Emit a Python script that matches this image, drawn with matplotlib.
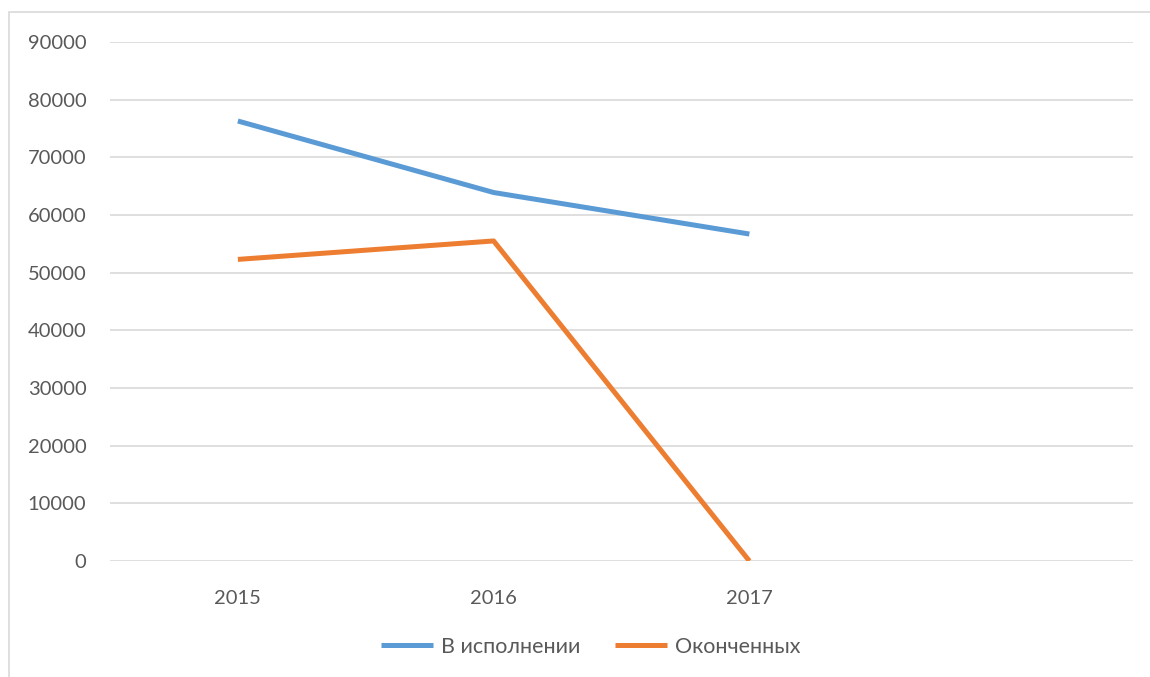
import matplotlib.pyplot as plt
from matplotlib.patches import Rectangle

# Data
years = ["2015", "2016", "2017", ""]
in_progress = [76300, 63900, 56700]
finished = [52300, 55500, 0]
series_names = ["В исполнении", "Оконченных"]

plt.rcParams['font.family'] = ['Lato', 'DejaVu Sans']

fig = plt.figure(figsize=(11.5, 6.77), dpi=100)
ax = fig.add_axes([110 / 1150, 1 - 561 / 677, (1133 - 110) / 1150, (561 - 42) / 677])

text_color = "#595959"
grid_color = "#d9d9d9"

x = list(range(len(years)))
ax.plot(x[:len(in_progress)], in_progress, color="#5b9bd5", linewidth=3.6,
        solid_capstyle='butt', solid_joinstyle='round', label=series_names[0])
ax.plot(x[:len(finished)], finished, color="#ed7d31", linewidth=3.6,
        solid_capstyle='butt', solid_joinstyle='round', label=series_names[1])

ax.set_xlim(-0.5, len(years) - 0.5)
ax.set_ylim(0, 90000)
ax.set_yticks(range(0, 90001, 10000))
ax.set_xticks(x)
ax.set_xticklabels(years)
ax.yaxis.grid(True, color=grid_color, linewidth=1.2)
ax.set_axisbelow(True)
for s in ax.spines.values():
    s.set_visible(False)
ax.tick_params(length=0, labelsize=14.5, labelcolor=text_color)
ax.tick_params(axis='y', pad=17)
ax.tick_params(axis='x', pad=21)

# outer chart border (cropped on right and bottom)
fig.patches.append(Rectangle((9 / 1150, -0.1), 1.2, (677 - 12) / 677 + 0.1,
                             transform=fig.transFigure, fill=False,
                             edgecolor=grid_color, linewidth=1.2))

fig.legend(loc='center', bbox_to_anchor=(591 / 1150, 1 - 647 / 677), ncol=2,
           frameon=False, fontsize=15.5, labelcolor=text_color,
           handlelength=2.4, columnspacing=1.6, handletextpad=0.4)

fig.savefig("out.png", dpi=100)
